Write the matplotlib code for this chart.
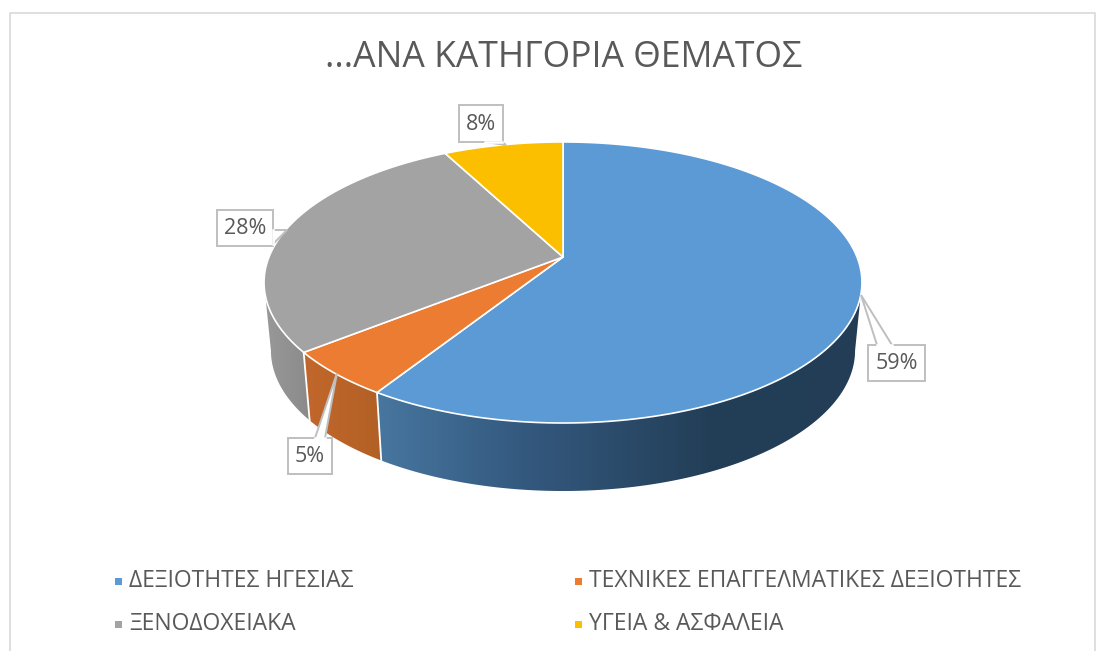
import matplotlib
matplotlib.use("Agg")
import matplotlib.pyplot as plt
from matplotlib import patches
from matplotlib.colors import LinearSegmentedColormap
import numpy as np

title = "...ΑΝΑ ΚΑΤΗΓΟΡΙΑ ΘΕΜΑΤΟΣ"
categories = ["ΔΕΞΙΟΤΗΤΕΣ ΗΓΕΣΙΑΣ", "ΤΕΧΝΙΚΕΣ ΕΠΑΓΓΕΛΜΑΤΙΚΕΣ ΔΕΞΙΟΤΗΤΕΣ", "ΞΕΝΟΔΟΧΕΙΑΚΑ", "ΥΓΕΙΑ & ΑΣΦΑΛΕΙΑ"]
values = [59.0, 5.3, 28.0, 7.7]
labels = ["59%", "5%", "28%", "8%"]
colors = ["#5B9AD5", "#EB7C31", "#A3A3A3", "#FCBF00"]

plt.rcParams['font.family'] = ['Open Sans', 'DejaVu Sans']
TEXT = "#595959"

fig = plt.figure(figsize=(11.06, 6.51), dpi=100)
ax = fig.add_axes([0, 0, 1, 1])
ax.set_xlim(0, 1106)
ax.set_ylim(651, 0)
ax.axis("off")

# frame, open at the bottom
ax.plot([9.5, 9.5, 1095, 1095], [651, 12.5, 12.5, 651], color="#d9d9d9", lw=1.2)

ax.text(564, 58, title, fontsize=25.6, color=TEXT, ha="center", va="center")

# pie geometry, the disc is seen in perspective
CX, CY = 563, 257
A, B, K = 294, 135.9, 0.1814
DEPTH = 68
SHRINK = 0.977


def top(a):
    # a = degrees clockwise from the top of the disc
    r = np.radians(a)
    u, v = np.sin(r), -np.cos(r)
    w = 1 - K * v
    return CX + A * u / w, CY + B * v / w


def bottom(a):
    x, y = top(a)
    return CX + (x - CX) * SHRINK, y + DEPTH


def wall(a0, a1):
    t = np.linspace(a0, a1, 100)
    x1, y1 = top(t)
    x2, y2 = bottom(t)
    return np.column_stack([np.r_[x1, x2[::-1]], np.r_[y1, y2[::-1]]])


cum = np.cumsum([0] + values) / sum(values) * 360
right_end = np.degrees(np.arccos(-K))   # where the disc is widest
left_end = 360 - right_end

# side walls, gradient stops run left to right
wall_stops = [
    [(0.0, "#47769f"), (0.3, "#34597f"), (0.68, "#233f58"), (1.0, "#223d55")],
    [(0.0, "#c2672b"), (1.0, "#b26026")],
    [(0.0, "#999999"), (1.0, "#8a8a8a")],
]
wall_spans = [(right_end, cum[1]), (cum[1], cum[2]), (cum[2], left_end)]
for span, stops in zip(wall_spans, wall_stops):
    pts = wall(*span)
    poly = patches.Polygon(pts, closed=True, fc="none", ec="none")
    ax.add_patch(poly)
    cmap = LinearSegmentedColormap.from_list("w", stops)
    im = ax.imshow(np.linspace(0, 1, 256)[None, :], cmap=cmap, aspect="auto",
                   extent=[pts[:, 0].min(), pts[:, 0].max(), 500, 270], zorder=2)
    im.set_clip_path(poly)
ax.set_xlim(0, 1106)
ax.set_ylim(651, 0)

# seams on the wall
for a in cum[1:3]:
    x0, y0 = top(a)
    x1, y1 = bottom(a)
    ax.plot([x0, x1], [y0, y1], color="white", lw=1.3, zorder=3)

# top of the disc
for i, col in enumerate(colors):
    t = np.linspace(cum[i], cum[i + 1], 150)
    x, y = top(t)
    ax.add_patch(patches.Polygon(np.column_stack([np.r_[CX, x], np.r_[CY, y]]), closed=True,
                                 fc=col, ec="white", lw=1.2, joinstyle="round", zorder=4))

# callouts: box and pointer
callouts = [
    (labels[0], (868, 345, 925, 381), [(877, 345), (861, 295), (892, 345)]),
    (labels[1], (288, 438, 332, 474), [(315, 438), (337, 373), (325, 438)]),
    (labels[2], (217, 210, 273, 246), [(273, 230), (287, 230), (273, 244)]),
    (labels[3], (459, 105, 503, 142), [(485, 142), (506, 145), (502, 142)]),
]
for txt, (x0, y0, x1, y1), ptr in callouts:
    box = patches.Rectangle((x0, y0), x1 - x0, y1 - y0, fc="white", ec="#bfbfbf", lw=1.4, zorder=6)
    ax.add_patch(box)
    ax.add_patch(patches.Polygon(ptr, closed=False, fc="white", ec="#bfbfbf", lw=1.4, zorder=6,
                                 joinstyle="miter"))
    # hide the box edge under the pointer
    ax.plot([ptr[0][0], ptr[2][0]], [ptr[0][1], ptr[2][1]], color="white", lw=1.8, zorder=7)
    ax.text((x0 + x1) / 2, (y0 + y1) / 2 + 0.5, txt, fontsize=15.5, color=TEXT, ha="center",
            va="center", zorder=8)

# legend
legend_x = [118, 578]
legend_y = [581, 624]
for i, (name, col) in enumerate(zip(categories, colors)):
    lx, ly = legend_x[i % 2], legend_y[i // 2]
    ax.add_patch(patches.Rectangle((lx - 3.5, ly - 3.5), 7, 7, fc=col, ec="none"))
    ax.text(lx + 11, ly, name, fontsize=16.5, color=TEXT, ha="left", va="center")

fig.savefig("out.png", dpi=100)
